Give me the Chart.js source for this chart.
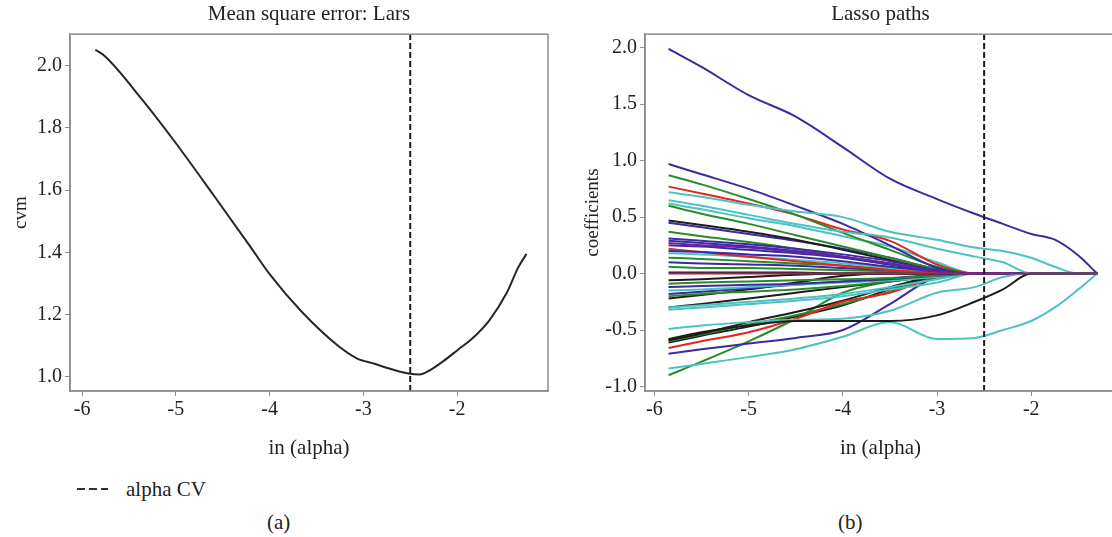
<!DOCTYPE html>
<html>
<head>
<meta charset="utf-8">
<script src="https://cdn.jsdelivr.net/npm/chart.js@4.4.1/dist/chart.umd.min.js"></script>
<style>
  html, body { margin: 0; padding: 0; background: #fff; }
  body { position: relative; width: 1112px; height: 537px; overflow: hidden; font-family: "Liberation Serif", serif; color: #222; }
  #mse { position: absolute; left: 0; top: 0; }
  #lasso { position: absolute; left: 556px; top: 0; }
  .cap { position: absolute; font-size: 21px; line-height: 24px; }
  #legend { left: 77px; top: 477px; display: flex; align-items: center; }
  #legend .dash { display: inline-block; width: 31px; height: 2px; margin-right: 18px;
    background: repeating-linear-gradient(to right, #333 0 8px, transparent 8px 12px); }
</style>
</head>
<body>
<canvas id="mse" width="556" height="470"></canvas>
<canvas id="lasso" width="562" height="470"></canvas>
<div class="cap" id="legend"><span class="dash"></span>alpha CV</div>
<div class="cap" style="left:267px; top:510px;">(a)</div>
<div class="cap" style="left:838px; top:510px;">(b)</div>
<script>
const alphaCV = -2.5;
const xTicks = [-6, -5, -4, -3, -2];

// (a) mean square error
const mseAlpha = [-5.86, -5.76, -5.36, -5.0, -4.59, -4.21, -4.0, -3.66, -3.27, -3.07, -2.89, -2.7, -2.5, -2.4, -2.3, -2.15, -1.98, -1.85, -1.66, -1.47, -1.35, -1.26];
const mseValues = [2.05, 2.03, 1.89, 1.75, 1.58, 1.42, 1.33, 1.21, 1.10, 1.06, 1.043, 1.025, 1.01, 1.008, 1.02, 1.05, 1.09, 1.12, 1.18, 1.27, 1.35, 1.395];
const mseTicksY = [1.0, 1.2, 1.4, 1.6, 1.8, 2.0];

// (b) lasso paths, one value per pathAlpha point
const pathAlpha = [-5.85, -5.5, -5.0, -4.5, -4.0, -3.5, -3.0, -2.6, -2.3, -2.0, -1.75, -1.5, -1.3];
const coefTicksY = [-1.0, -0.5, 0.0, 0.5, 1.0, 1.5, 2.0];

const pZero    = [0, 0, 0, 0, 0, 0, 0, 0, 0, 0, 0, 0, 0];
const pTop     = [1.99, 1.83, 1.58, 1.39, 1.12, 0.84, 0.66, 0.53, 0.44, 0.35, 0.30, 0.16, 0];
const pCyanA   = [0.72, 0.68, 0.61, 0.55, 0.50, 0.37, 0.30, 0.23, 0.20, 0.14, 0.06, 0, 0];
const pCyanB   = [0.65, 0.60, 0.52, 0.44, 0.37, 0.32, 0.22, 0.15, 0.10, 0, 0, 0, 0];
const pCyanC   = [0.62, 0.57, 0.49, 0.42, 0.33, 0.24, 0.10, 0, 0, 0, 0, 0, 0];
const pBlue97  = [0.97, 0.88, 0.75, 0.60, 0.44, 0.25, 0.05, 0, 0, 0, 0, 0, 0];
const pGreen87 = [0.87, 0.79, 0.66, 0.52, 0.36, 0.21, 0.06, 0, 0, 0, 0, 0, 0];
const pRed77   = [0.77, 0.71, 0.62, 0.52, 0.39, 0.29, 0.08, 0, 0, 0, 0, 0, 0];
const pGreen60 = [0.60, 0.53, 0.44, 0.34, 0.24, 0.14, 0.04, 0, 0, 0, 0, 0, 0];
const pBlack47 = [0.47, 0.43, 0.37, 0.30, 0.21, 0.12, 0.03, 0, 0, 0, 0, 0, 0];
const pBlue45  = [0.45, 0.41, 0.35, 0.29, 0.22, 0.14, 0.04, 0, 0, 0, 0, 0, 0];
const pGreen37 = [0.37, 0.33, 0.28, 0.22, 0.15, 0.08, 0.02, 0, 0, 0, 0, 0, 0];
const pBlue31  = [0.31, 0.29, 0.26, 0.22, 0.17, 0.11, 0.03, 0, 0, 0, 0, 0, 0];
const pBlue29  = [0.29, 0.27, 0.24, 0.20, 0.15, 0.09, 0.02, 0, 0, 0, 0, 0, 0];
const pPurp27  = [0.27, 0.25, 0.23, 0.19, 0.15, 0.09, 0.02, 0, 0, 0, 0, 0, 0];
const pBlue25  = [0.25, 0.24, 0.21, 0.18, 0.14, 0.08, 0.02, 0, 0, 0, 0, 0, 0];
const pRed22   = [0.22, 0.19, 0.15, 0.11, 0.07, 0.03, 0.01, 0, 0, 0, 0, 0, 0];
const pBlue20  = [0.20, 0.19, 0.17, 0.15, 0.11, 0.06, 0.02, 0, 0, 0, 0, 0, 0];
const pCyan18  = [0.18, 0.17, 0.15, 0.12, 0.09, 0.05, 0.01, 0, 0, 0, 0, 0, 0];
const pGreen14 = [0.14, 0.13, 0.11, 0.09, 0.07, 0.04, 0.01, 0, 0, 0, 0, 0, 0];
const pBlue10  = [0.10, 0.09, 0.08, 0.07, 0.05, 0.03, 0.01, 0, 0, 0, 0, 0, 0];
const pGreen06 = [0.06, 0.05, 0.05, 0.04, 0.03, 0.02, 0.01, 0, 0, 0, 0, 0, 0];
const pBlack01 = [0.01, 0.01, 0.01, 0.01, 0, 0, 0, 0, 0, 0, 0, 0, 0];
const nBlack06 = [-0.06, -0.05, -0.03, -0.01, 0, 0, 0, 0, 0, 0, 0, 0, 0];
const nGreen09 = [-0.09, -0.08, -0.07, -0.06, -0.05, -0.04, -0.02, 0, 0, 0, 0, 0, 0];
const nBlue12  = [-0.12, -0.11, -0.10, -0.09, -0.07, -0.05, -0.02, 0, 0, 0, 0, 0, 0];
const nCyan15  = [-0.15, -0.14, -0.12, -0.10, -0.08, -0.06, -0.03, 0, 0, 0, 0, 0, 0];
const nBlue18  = [-0.18, -0.16, -0.13, -0.10, -0.07, -0.04, -0.01, 0, 0, 0, 0, 0, 0];
const nGreen20 = [-0.20, -0.18, -0.16, -0.14, -0.11, -0.07, -0.02, 0, 0, 0, 0, 0, 0];
const nBlack22 = [-0.22, -0.19, -0.14, -0.08, -0.02, 0, 0, 0, 0, 0, 0, 0, 0];
const nCyan30  = [-0.30, -0.28, -0.25, -0.22, -0.18, -0.12, -0.05, 0, 0, 0, 0, 0, 0];
const nBlack30 = [-0.30, -0.27, -0.22, -0.17, -0.12, -0.07, -0.02, 0, 0, 0, 0, 0, 0];
const nCyan32  = [-0.32, -0.30, -0.27, -0.24, -0.20, -0.14, -0.08, 0, 0, 0, 0, 0, 0];
const nCyan49  = [-0.49, -0.46, -0.43, -0.41, -0.40, -0.33, -0.17, -0.12, -0.03, 0, 0, 0, 0];
const nBlack58 = [-0.58, -0.52, -0.46, -0.42, -0.42, -0.42, -0.37, -0.25, -0.14, 0, 0, 0, 0];
const nBlack59 = [-0.59, -0.53, -0.43, -0.34, -0.24, -0.12, -0.02, 0, 0, 0, 0, 0, 0];
const nGreen60 = [-0.60, -0.54, -0.45, -0.37, -0.27, -0.16, -0.04, 0, 0, 0, 0, 0, 0];
const nBlack61 = [-0.61, -0.55, -0.47, -0.38, -0.28, -0.14, -0.03, 0, 0, 0, 0, 0, 0];
const nRed66   = [-0.66, -0.60, -0.52, -0.40, -0.25, -0.17, -0.03, 0, 0, 0, 0, 0, 0];
const nBlue71  = [-0.71, -0.67, -0.62, -0.57, -0.50, -0.27, -0.03, 0, 0, 0, 0, 0, 0];
const nCyan84  = [-0.84, -0.80, -0.74, -0.67, -0.56, -0.43, -0.58, -0.57, -0.50, -0.42, -0.30, -0.14, 0];
const nGreen90 = [-0.90, -0.78, -0.60, -0.40, -0.17, -0.07, -0.01, 0, 0, 0, 0, 0, 0];

const BLUE = '#3a2c9f', CYAN = '#4cc2c2', GREEN = '#2b8a2b', RED = '#e2271f';
const BLACK = '#1c1c1c', PURPLE = '#6b1fa6', MAROON = '#93295a';

// first in list is drawn on top
const lassoPaths = [
  [pZero, MAROON], [pTop, BLUE], [nBlack58, BLACK], [nCyan84, CYAN], [pCyanA, CYAN], [pCyanB, CYAN],
  [nCyan49, CYAN], [pBlue97, BLUE], [pPurp27, PURPLE], [pBlue31, BLUE], [pBlue29, BLUE],
  [pBlue25, BLUE], [pBlue20, BLUE], [pRed22, RED], [pGreen87, GREEN], [pRed77, RED], [pCyanC, CYAN],
  [pGreen60, GREEN], [pBlack47, BLACK], [pBlue45, BLUE], [pGreen37, GREEN], [pCyan18, CYAN],
  [pGreen14, GREEN], [pBlue10, BLUE], [pGreen06, GREEN], [pBlack01, BLACK], [nBlack06, BLACK],
  [nGreen09, GREEN], [nBlue12, BLUE], [nCyan15, CYAN], [nBlue18, BLUE], [nGreen20, GREEN],
  [nBlack22, BLACK], [nCyan30, CYAN], [nBlack30, BLACK], [nCyan32, CYAN], [nBlue71, BLUE],
  [nRed66, RED], [nBlack59, BLACK], [nGreen60, GREEN], [nBlack61, BLACK], [nGreen90, GREEN]
];

const TICK_FONT = { family: 'Liberation Serif', size: 20 };
const AXIS_FONT = { family: 'Liberation Serif', size: 21 };
const YTITLE_FONT = { family: 'Liberation Serif', size: 19 };
const TEXT = '#222';
const FRAME = '#8c8c8c';

// grey frame round the plot area
const boxPlugin = {
  id: 'box',
  afterDraw(chart) {
    const { ctx, chartArea: a } = chart;
    ctx.save();
    ctx.strokeStyle = FRAME;
    ctx.lineWidth = 1.5;
    ctx.strokeRect(a.left, a.top, a.right - a.left, a.bottom - a.top);
    ctx.restore();
  }
};

function axes(o) {
  return {
    x: {
      type: 'linear', min: o.xMin, max: o.xMax,
      afterFit: s => { s.height = 79; },
      afterBuildTicks: s => { s.ticks = xTicks.map(v => ({ value: v })); },
      ticks: { font: TICK_FONT, color: TEXT, padding: 2, callback: v => String(v) },
      grid: { display: true, drawOnChartArea: false, drawTicks: true, tickLength: 5, color: FRAME },
      border: { display: true, color: FRAME, width: 1.5 },
      title: { display: true, text: 'in (alpha)', font: AXIS_FONT, color: TEXT, padding: { top: 0, bottom: 9 } }
    },
    y: {
      type: 'linear', min: o.yMin, max: o.yMax,
      afterFit: s => { s.width = o.yWidth; },
      afterBuildTicks: s => { s.ticks = o.yTicks.map(v => ({ value: v })); },
      ticks: { font: TICK_FONT, color: TEXT, padding: 3, callback: v => v.toFixed(1) },
      grid: { display: true, drawOnChartArea: false, drawTicks: true, tickLength: 5, color: FRAME },
      border: { display: true, color: FRAME, width: 1.5 },
      title: { display: true, text: o.yTitle, font: YTITLE_FONT, color: TEXT, padding: { top: o.yTitlePad, bottom: 0 } }
    }
  };
}

function common(title, rightPad, scales) {
  return {
    responsive: false,
    animation: false,
    layout: { padding: { left: 0, right: rightPad, top: 0, bottom: 0 } },
    plugins: {
      legend: { display: false },
      tooltip: { enabled: false },
      title: {
        display: true, fullSize: false, text: title,
        font: { family: 'Liberation Serif', size: 21, weight: 'normal' }, color: TEXT,
        padding: { top: 2, bottom: 7 }
      }
    },
    scales
  };
}

const mseRange = { yMin: 0.955, yMax: 2.1 };
new Chart(document.getElementById('mse'), {
  type: 'line',
  data: {
    datasets: [
      {
        label: 'alpha CV',
        data: [{ x: alphaCV, y: mseRange.yMin }, { x: alphaCV, y: mseRange.yMax }],
        borderColor: BLACK, borderWidth: 2, borderDash: [6, 3], pointRadius: 0
      },
      {
        label: 'cvm',
        data: mseAlpha.map((a, i) => ({ x: a, y: mseValues[i] })),
        borderColor: '#262626', borderWidth: 2, pointRadius: 0, cubicInterpolationMode: 'monotone'
      }
    ]
  },
  options: common('Mean square error: Lars', 8, axes({
    xMin: -6.13, xMax: -1.03, yMin: mseRange.yMin, yMax: mseRange.yMax,
    yTicks: mseTicksY, yWidth: 70, yTitle: 'cvm', yTitlePad: 10
  })),
  plugins: [boxPlugin]
});

const coefRange = { yMin: -1.04, yMax: 2.12 };
const lassoSets = lassoPaths.map(([vals, color]) => ({
  data: pathAlpha.map((a, i) => ({ x: a, y: vals[i] })),
  borderColor: color, borderWidth: 2, pointRadius: 0, cubicInterpolationMode: 'monotone'
}));
lassoSets.unshift({
  label: 'alpha CV',
  data: [{ x: alphaCV, y: coefRange.yMin }, { x: alphaCV, y: coefRange.yMax }],
  borderColor: BLACK, borderWidth: 2, borderDash: [6, 3], pointRadius: 0
});

new Chart(document.getElementById('lasso'), {
  type: 'line',
  data: { datasets: lassoSets },
  options: common('Lasso paths', 2, axes({
    xMin: -6.1, xMax: -1.1, yMin: coefRange.yMin, yMax: coefRange.yMax,
    yTicks: coefTicksY, yWidth: 89, yTitle: 'coefficients', yTitlePad: 26
  })),
  plugins: [boxPlugin]
});
</script>
</body>
</html>
